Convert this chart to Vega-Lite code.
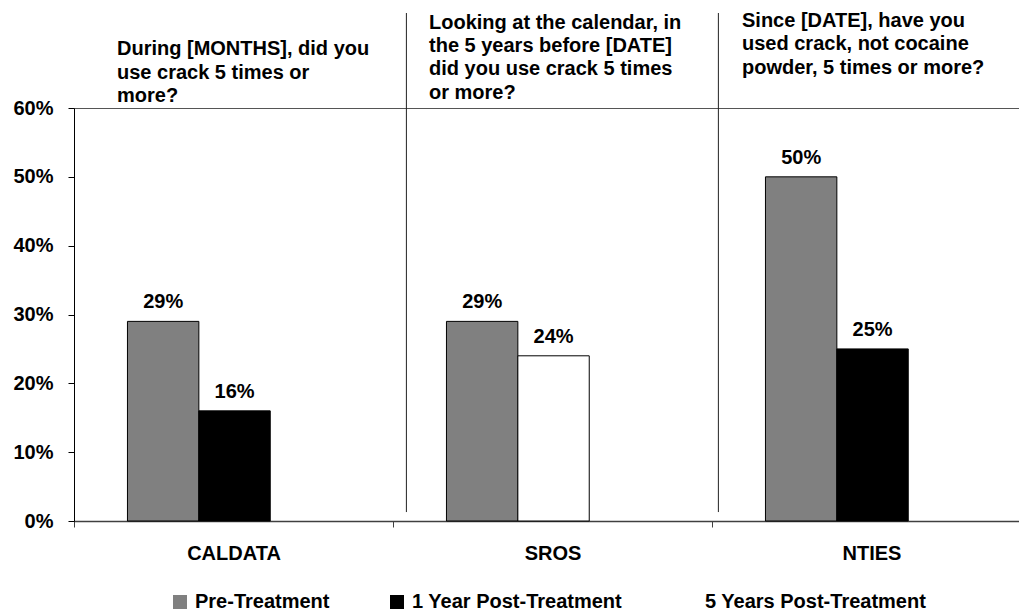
{
  "$schema": "https://vega.github.io/schema/vega-lite/v6.json",
  "width": 957,
  "height": 413,
  "autosize": "none",
  "padding": {"left": 74, "top": 108, "right": 0, "bottom": 94},
  "background": "white",
  "config": {
    "font": "Liberation Sans",
    "view": {"stroke": "#555555", "strokeWidth": 1}
  },
  "datasets": {
    "bars": [
      {"study": "CALDATA", "phase": "Pre", "series": "Pre-Treatment", "value": 0.29},
      {"study": "CALDATA", "phase": "Post", "series": "1 Year Post-Treatment", "value": 0.16},
      {"study": "SROS", "phase": "Pre", "series": "Pre-Treatment", "value": 0.29},
      {"study": "SROS", "phase": "Post", "series": "5 Years Post-Treatment", "value": 0.24},
      {"study": "NTIES", "phase": "Pre", "series": "Pre-Treatment", "value": 0.50},
      {"study": "NTIES", "phase": "Post", "series": "1 Year Post-Treatment", "value": 0.25}
    ],
    "questions": [
      {"study": "CALDATA", "question": "During [MONTHS], did you\nuse crack 5 times or\nmore?"},
      {"study": "SROS", "question": "Looking at the calendar, in\nthe 5 years before [DATE]\ndid you use crack 5 times\nor more?"},
      {"study": "NTIES", "question": "Since [DATE], have you\nused crack, not cocaine\npowder, 5 times or more?"}
    ]
  },
  "layer": [
    {
      "data": {"name": "bars"},
      "mark": {"type": "bar", "stroke": "black", "strokeWidth": 1},
      "encoding": {
        "x": {
          "field": "study", "type": "nominal",
          "scale": {"domain": ["CALDATA", "SROS", "NTIES"], "paddingInner": 0, "paddingOuter": 0},
          "axis": {
            "title": null, "labelFontSize": 20, "labelFontWeight": "bold", "labelColor": "black",
            "labelAngle": 0, "labelPadding": 16, "tickBand": "extent", "tickSize": 6,
            "tickColor": "#404040", "domainColor": "#404040", "domainWidth": 1.5
          }
        },
        "xOffset": {
          "field": "phase", "type": "nominal",
          "scale": {"domain": ["Pre", "Post", "Later"], "paddingInner": 0, "paddingOuter": 0.734, "align": 0.51}
        },
        "y": {
          "field": "value", "type": "quantitative",
          "scale": {"domain": [0, 0.6], "nice": false},
          "axis": {
            "title": null, "values": [0, 0.1, 0.2, 0.3, 0.4, 0.5, 0.6], "format": ".0%",
            "labelFontSize": 20, "labelFontWeight": "bold", "labelColor": "black",
            "labelPadding": 15, "tickSize": 6, "tickColor": "black", "domainColor": "black", "grid": false
          }
        },
        "color": {
          "field": "series", "type": "nominal",
          "scale": {
            "domain": ["Pre-Treatment", "1 Year Post-Treatment", "5 Years Post-Treatment"],
            "range": ["#808080", "#000000", "#ffffff"]
          },
          "legend": {
            "title": null, "orient": "none", "legendX": 96, "legendY": 484, "direction": "horizontal",
            "symbolType": "square", "symbolSize": 196, "symbolStrokeWidth": 0, "symbolOpacity": 1,
            "labelFontSize": 20, "labelFontWeight": "bold", "labelColor": "black",
            "columnPadding": 57, "labelOffset": 5, "labelLimit": 0, "padding": 0
          }
        }
      }
    },
    {
      "data": {"name": "bars"},
      "mark": {"type": "text", "baseline": "alphabetic", "dy": -13, "fontSize": 20, "fontWeight": "bold", "color": "black"},
      "encoding": {
        "x": {"field": "study", "type": "nominal"},
        "xOffset": {"field": "phase", "type": "nominal"},
        "y": {"field": "value", "type": "quantitative", "scale": {"domain": [0, 0.6], "nice": false}},
        "text": {"field": "value", "format": ".0%"}
      }
    },
    {
      "data": {"name": "questions"},
      "transform": [{"filter": "datum.study === 'SROS'"}],
      "mark": {"type": "rule", "color": "#222222", "strokeWidth": 1},
      "encoding": {
        "x": {"field": "study", "type": "nominal", "bandPosition": 0.042},
        "y": {"datum": 0.738, "type": "quantitative", "scale": {"domain": [0, 0.6], "nice": false}},
        "y2": {"datum": 0.013}
      }
    },
    {
      "data": {"name": "questions"},
      "transform": [{"filter": "datum.study === 'NTIES'"}],
      "mark": {"type": "rule", "color": "#222222", "strokeWidth": 1},
      "encoding": {
        "x": {"field": "study", "type": "nominal", "bandPosition": 0.02},
        "y": {"datum": 0.738, "type": "quantitative", "scale": {"domain": [0, 0.6], "nice": false}},
        "y2": {"datum": 0.013}
      }
    },
    {
      "data": {"name": "questions"},
      "transform": [{"filter": "datum.study === 'CALDATA'"}],
      "mark": {"type": "text", "align": "left", "baseline": "alphabetic", "lineBreak": "\n", "lineHeight": 23.3, "dx": 43, "dy": -52.7, "fontSize": 20, "fontWeight": "bold", "color": "black"},
      "encoding": {
        "x": {"field": "study", "type": "nominal", "bandPosition": 0},
        "y": {"datum": 0.6, "type": "quantitative", "scale": {"domain": [0, 0.6], "nice": false}},
        "text": {"field": "question"}
      }
    },
    {
      "data": {"name": "questions"},
      "transform": [{"filter": "datum.study === 'SROS'"}],
      "mark": {"type": "text", "align": "left", "baseline": "alphabetic", "lineBreak": "\n", "lineHeight": 23.3, "dx": 36, "dy": -79.2, "fontSize": 20, "fontWeight": "bold", "color": "black"},
      "encoding": {
        "x": {"field": "study", "type": "nominal", "bandPosition": 0},
        "y": {"datum": 0.6, "type": "quantitative", "scale": {"domain": [0, 0.6], "nice": false}},
        "text": {"field": "question"}
      }
    },
    {
      "data": {"name": "questions"},
      "transform": [{"filter": "datum.study === 'NTIES'"}],
      "mark": {"type": "text", "align": "left", "baseline": "alphabetic", "lineBreak": "\n", "lineHeight": 23.3, "dx": 30, "dy": -81, "fontSize": 20, "fontWeight": "bold", "color": "black"},
      "encoding": {
        "x": {"field": "study", "type": "nominal", "bandPosition": 0},
        "y": {"datum": 0.6, "type": "quantitative", "scale": {"domain": [0, 0.6], "nice": false}},
        "text": {"field": "question"}
      }
    }
  ]
}
